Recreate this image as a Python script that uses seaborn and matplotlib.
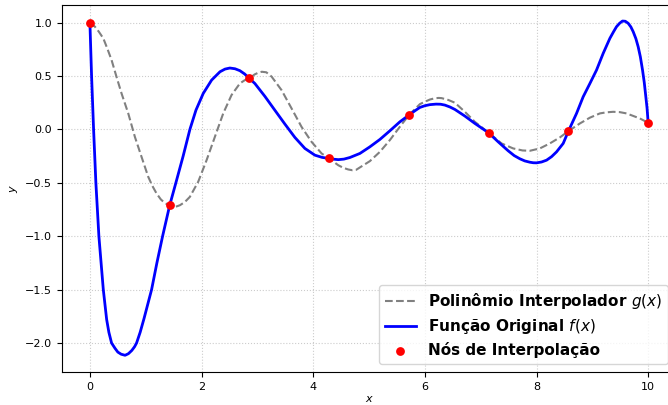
import matplotlib
matplotlib.use("Agg")
import matplotlib.pyplot as plt
import seaborn as sns
import pandas as pd

# Nodes of interpolation
node_x = [0.0, 1.4286, 2.8571, 4.2857, 5.7143, 7.1429, 8.5714, 10.0]
node_y = [1.0, -0.712, 0.478, -0.272, 0.134, -0.032, -0.016, 0.062]

# Original function f(x)
f_x = [0.0, 0.03, 0.066, 0.107, 0.161, 0.24, 0.30, 0.34, 0.388, 0.45, 0.50, 0.56, 0.63,
       0.69, 0.75, 0.80, 0.836, 0.90, 0.97, 1.105, 1.20, 1.302, 1.4286, 1.54, 1.67,
       1.791, 1.9, 2.03, 2.18, 2.33, 2.42, 2.507, 2.6, 2.687, 2.77, 2.8571, 2.955,
       3.134, 3.313, 3.493, 3.672, 3.851, 4.03, 4.16, 4.2857, 4.37, 4.45, 4.55, 4.657,
       4.836, 5.015, 5.194, 5.373, 5.552, 5.7143, 5.82, 5.911, 6.0, 6.09, 6.2, 6.28,
       6.358, 6.45, 6.538, 6.717, 6.896, 7.1429, 7.313, 7.492, 7.60, 7.702, 7.79, 7.881,
       7.94, 8.0, 8.09, 8.18, 8.27, 8.359, 8.478, 8.5714, 8.717, 8.836, 8.956, 9.075,
       9.194, 9.314, 9.38, 9.433, 9.49, 9.54, 9.59, 9.642, 9.69, 9.732, 9.78, 9.821,
       9.86, 9.899, 9.93, 9.958, 9.98, 10.0]
f_y = [1.0, 0.5, 0.0, -0.5, -1.0, -1.5, -1.78, -1.9, -2.0, -2.05, -2.085, -2.105,
       -2.115, -2.1, -2.07, -2.035, -2.0, -1.9, -1.77, -1.5, -1.25, -1.0, -0.712, -0.5,
       -0.25, 0.0, 0.181, 0.337, 0.462, 0.54, 0.565, 0.575, 0.568, 0.55, 0.52, 0.478,
       0.43, 0.31, 0.18, 0.05, -0.075, -0.178, -0.241, -0.262, -0.272, -0.279, -0.283,
       -0.278, -0.263, -0.225, -0.163, -0.094, -0.013, 0.071, 0.134, 0.174, 0.206, 0.222,
       0.232, 0.237, 0.236, 0.228, 0.21, 0.187, 0.125, 0.056, -0.032, -0.116, -0.2, -0.245,
       -0.275, -0.295, -0.307, -0.312, -0.313, -0.305, -0.288, -0.255, -0.21, -0.131,
       -0.016, 0.15, 0.306, 0.43, 0.556, 0.712, 0.853, 0.915, 0.962, 0.995, 1.015, 1.013,
       0.994, 0.96, 0.915, 0.85, 0.774, 0.68, 0.556, 0.44, 0.306, 0.2, 0.062]

# Interpolating polynomial g(x)
g_x = [0.0, 0.09, 0.16, 0.24, 0.31, 0.388, 0.478, 0.567, 0.687, 0.806, 0.925, 1.045,
       1.12, 1.194, 1.27, 1.343, 1.4286, 1.52, 1.612, 1.70, 1.79, 1.94, 2.09, 2.239,
       2.388, 2.537, 2.687, 2.77, 2.8571, 2.95, 3.02, 3.08, 3.16, 3.254, 3.433, 3.612,
       3.791, 3.97, 4.15, 4.2857, 4.448, 4.54, 4.627, 4.70, 4.77, 4.836, 5.015, 5.194,
       5.373, 5.552, 5.7143, 5.911, 6.0, 6.09, 6.18, 6.25, 6.3, 6.42, 6.538, 6.717,
       6.896, 7.1429, 7.373, 7.582, 7.75, 7.881, 8.06, 8.239, 8.418, 8.5714, 8.777,
       8.956, 9.135, 9.25, 9.373, 9.49, 9.612, 9.85, 10.0]
g_y = [1.0, 0.962, 0.915, 0.853, 0.76, 0.65, 0.49, 0.337, 0.15, -0.07, -0.257, -0.444,
       -0.53, -0.6, -0.655, -0.69, -0.712, -0.727, -0.71, -0.68, -0.632, -0.49, -0.288,
       -0.069, 0.15, 0.322, 0.431, 0.46, 0.478, 0.515, 0.532, 0.54, 0.535, 0.495, 0.368,
       0.197, 0.024, -0.116, -0.225, -0.272, -0.335, -0.36, -0.375, -0.382, -0.378,
       -0.356, -0.297, -0.21, -0.1, 0.025, 0.134, 0.237, 0.259, 0.28, 0.292, 0.295, 0.293,
       0.276, 0.25, 0.165, 0.071, -0.032, -0.131, -0.178, -0.197, -0.2, -0.178, -0.131,
       -0.075, -0.016, 0.056, 0.11, 0.15, 0.16, 0.165, 0.162, 0.15, 0.103, 0.062]

label_g = r"Polinômio Interpolador $g(x)$"
label_f = r"Função Original $f(x)$"
label_n = "Nós de Interpolação"

fig = plt.figure(figsize=(6.68, 4.05), dpi=100)
ax = fig.add_axes([0.0928, 0.0815, 0.9193, 0.9065])

df_g = pd.DataFrame({"x": g_x, "y": g_y})
df_f = pd.DataFrame({"x": f_x, "y": f_y})
df_n = pd.DataFrame({"x": node_x, "y": node_y})

sns.lineplot(data=df_g, x="x", y="y", ax=ax, color="gray", linestyle="--",
             linewidth=1.5, label=label_g, sort=False, zorder=2)
sns.lineplot(data=df_f, x="x", y="y", ax=ax, color="blue", linewidth=2,
             label=label_f, sort=False, zorder=3)
sns.scatterplot(data=df_n, x="x", y="y", ax=ax, color="red", s=40, linewidth=0,
                label=label_n, zorder=4)

ax.set_xlim(-0.5, 10.5)
ax.set_ylim(-2.2715, 1.1665)
ax.set_xticks([0, 2, 4, 6, 8, 10])
ax.set_yticks([-2.0, -1.5, -1.0, -0.5, 0.0, 0.5, 1.0])
ax.tick_params(labelsize=8)
ax.set_xlabel("$x$", fontsize=8, labelpad=2)
ax.set_ylabel("$y$", fontsize=8)
ax.grid(True, linestyle=":", color="#cccccc", linewidth=0.8)

leg = ax.legend(loc="lower right", prop={"weight": "bold", "size": 11},
                framealpha=0.8, labelspacing=0.4)

fig.savefig("out.png", dpi=100)
